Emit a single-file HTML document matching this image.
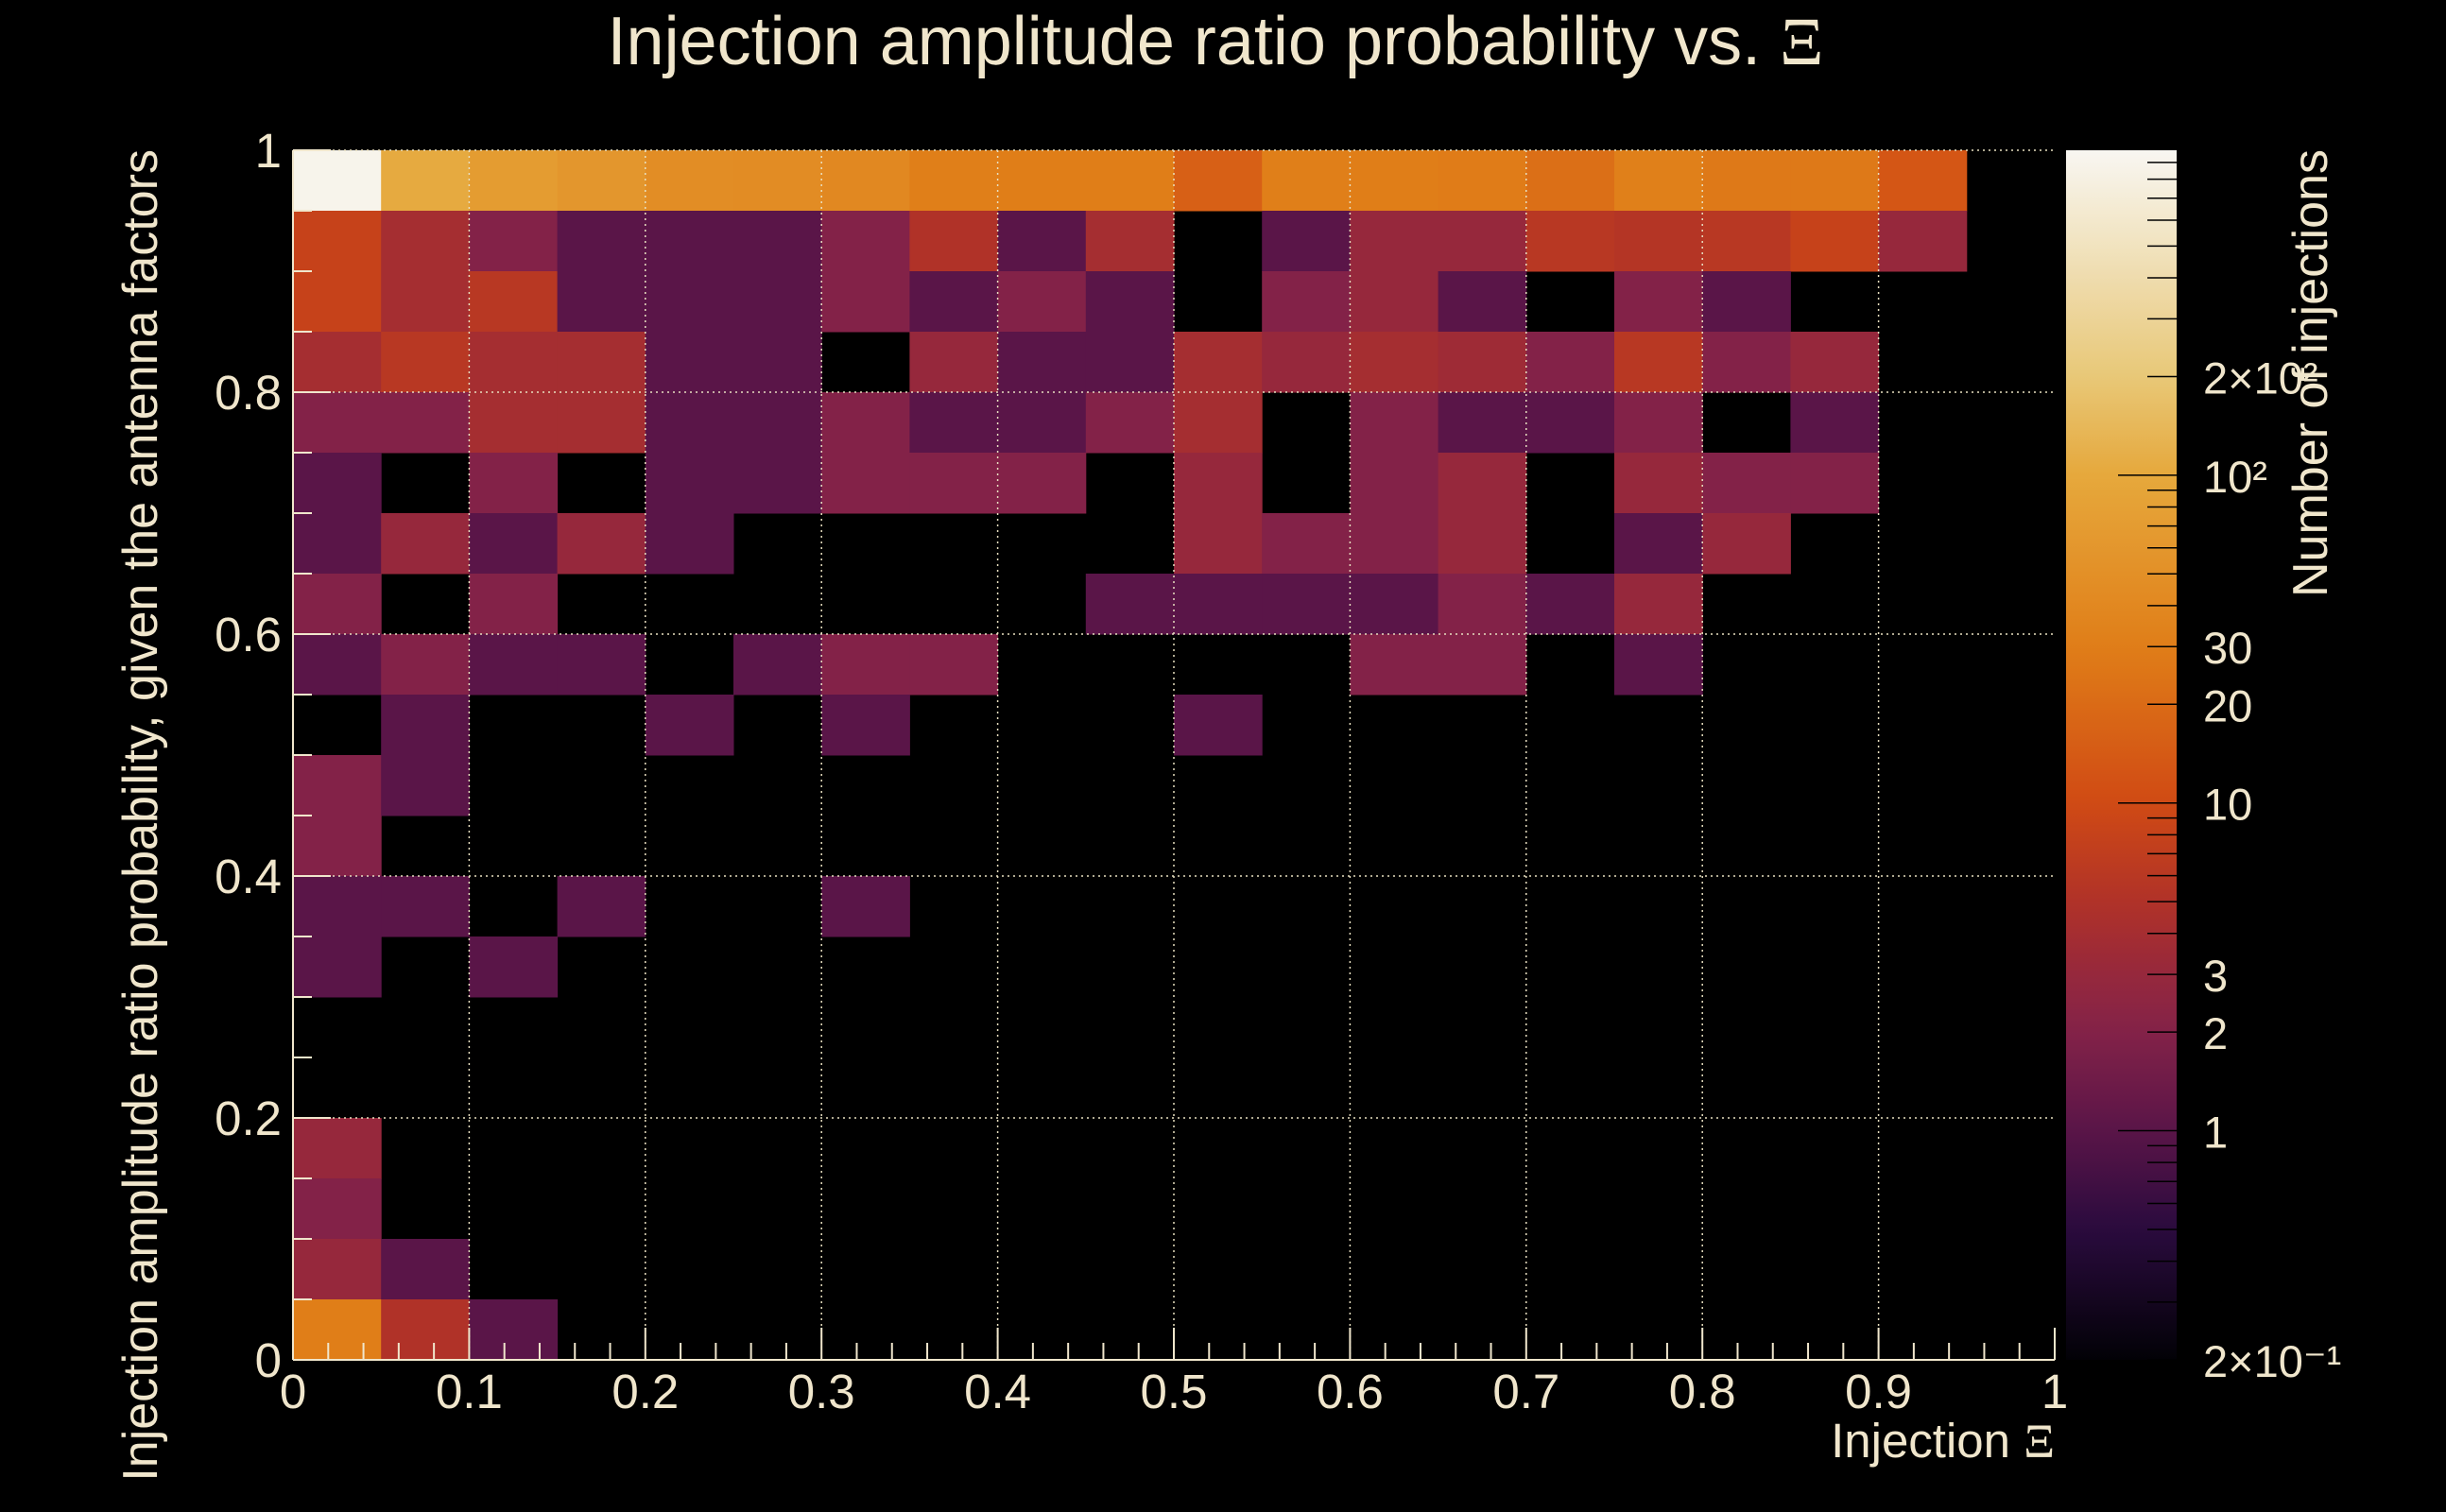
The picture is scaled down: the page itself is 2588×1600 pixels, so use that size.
<!DOCTYPE html>
<html><head><meta charset="utf-8"><style>
html,body{margin:0;padding:0;background:#000;}
svg{display:block;font-family:"Liberation Sans",sans-serif;}
</style></head><body>
<svg id="chart" width="2588" height="1600" viewBox="0 0 2588 1600" xmlns="http://www.w3.org/2000/svg">
<rect x="0" y="0" width="2588" height="1600" fill="#000"/>
<text x="1286" y="68" font-size="72" fill="#f0e6cc" text-anchor="middle">Injection amplitude ratio probability vs.  <tspan font-family="Liberation Serif, serif">Ξ</tspan></text>
<g id="cells"></g>
<g id="grid"></g>
<g id="axes"></g>
<defs><linearGradient id="cbgrad" x1="0" y1="1" x2="0" y2="0"></linearGradient></defs>
<rect x="2186" y="159" width="117" height="1280" fill="url(#cbgrad)"/>
<g id="cbticks"></g>
<text x="2174" y="1542" font-size="51" fill="#f0e6cc" text-anchor="end">Injection <tspan font-family="Liberation Serif, serif">Ξ</tspan></text>
<text transform="translate(166,158) rotate(-90)" font-size="52" fill="#f0e6cc" text-anchor="end">Injection amplitude ratio probability, given the antenna factors</text>
<text transform="translate(2462,158) rotate(-90)" font-size="52" fill="#f0e6cc" text-anchor="end">Number of injections</text>
</svg>
<script>
// data: rows listed from top (y 0.95-1.0) to bottom (y 0-0.05), 20 x-bins each
const xEdges = [0,0.05,0.1,0.15,0.2,0.25,0.3,0.35,0.4,0.45,0.5,0.55,0.6,0.65,0.7,0.75,0.8,0.85,0.9,0.95,1.0];
const row19 = [900,105,70,60,46,45,40,31,30,30,16,31,30,29,22,32,27,27,13,0];
const row18 = [8,4,2,1,1,1,2,5,1,4,0,1,3,3,6,5.5,6,8,3,0];
const row17 = [8,4,6,1,1,1,2,1,2,1,0,2,3,1,0,2,1,0,0,0];
const row16 = [4,6,4,4,1,1,0,3,1,1,4,3,4,3.5,2,6,2,3,0,0];
const row15 = [2,2,4,4,1,1,2,1,1,2,4,0,2,1,1,2,0,1,0,0];
const row14 = [1,0,2,0,1,1,2,2,2,0,3,0,2,3,0,3,2,2,0,0];
const row13 = [1,3,1,3,1,0,0,0,0,0,3,2,2,3,0,1,3,0,0,0];
const row12 = [2,0,2,0,0,0,0,0,0,1,1,1,1,2,1,3,0,0,0,0];
const row11 = [1,2,1,1,0,1,2,2,0,0,0,0,2,2,0,1,0,0,0,0];
const row10 = [0,1,0,0,1,0,1,0,0,0,1,0,0,0,0,0,0,0,0,0];
const row9  = [2,1,0,0,0,0,0,0,0,0,0,0,0,0,0,0,0,0,0,0];
const row8  = [2,0,0,0,0,0,0,0,0,0,0,0,0,0,0,0,0,0,0,0];
const row7  = [1,1,0,1,0,0,1,0,0,0,0,0,0,0,0,0,0,0,0,0];
const row6  = [1,0,1,0,0,0,0,0,0,0,0,0,0,0,0,0,0,0,0,0];
const row5  = [0,0,0,0,0,0,0,0,0,0,0,0,0,0,0,0,0,0,0,0];
const row4  = [0,0,0,0,0,0,0,0,0,0,0,0,0,0,0,0,0,0,0,0];
const row3  = [3,0,0,0,0,0,0,0,0,0,0,0,0,0,0,0,0,0,0,0];
const row2  = [2,0,0,0,0,0,0,0,0,0,0,0,0,0,0,0,0,0,0,0];
const row1  = [3,1,0,0,0,0,0,0,0,0,0,0,0,0,0,0,0,0,0,0];
const row0  = [30,5,1,0,0,0,0,0,0,0,0,0,0,0,0,0,0,0,0,0];
const rowsTopDown = [row19,row18,row17,row16,row15,row14,row13,row12,row11,row10,row9,row8,row7,row6,row5,row4,row3,row2,row1,row0];
const xTickLabels = ["0","0.1","0.2","0.3","0.4","0.5","0.6","0.7","0.8","0.9","1"];
const yTickLabels = ["0","0.2","0.4","0.6","0.8","1"];
const zTickValues = [0.2,1,2,3,10,20,30,100,200];
const zTickLabels = ["2×10⁻¹","1","2","3","10","20","30","10²","2×10²"];

const NS="http://www.w3.org/2000/svg";
const PX0=310, PX1=2174, PY0=159, PY1=1439;
const ZMIN=0.2, ZMAX=Math.pow(10,(1197-159)/347);
const CBY0=159, CBY1=1439;
const sx=v=>PX0+v*(PX1-PX0);
const sy=v=>PY1-v*(PY1-PY0);
const lz=v=>(Math.log10(v)-Math.log10(ZMIN))/(Math.log10(ZMAX)-Math.log10(ZMIN));
const sz=v=>CBY1-lz(v)*(CBY1-CBY0);
const vstops=[[0.2,[2,1,6]],[0.5,[42,11,62]],[1,[90,21,72]],[2,[131,34,72]],[3,[150,40,60]],[5,[176,50,40]],[10,[208,74,20]],[30,[224,126,24]],[100,[230,168,60]],[200,[232,200,120]],[ZMAX,[248,246,242]]];
const stops=vstops.map(s=>[lz(s[0]),s[1]]);
function col(t){t=Math.max(0,Math.min(1,t));for(let i=1;i<stops.length;i++){if(t<=stops[i][0]){const a=stops[i-1],b=stops[i];const f=(t-a[0])/(b[0]-a[0]);const c=a[1].map((v,k)=>Math.round(v+(b[1][k]-v)*f));return `rgb(${c[0]},${c[1]},${c[2]})`;}}return "rgb(248,246,242)";}
function mk(tag,attrs,parent){const e=document.createElementNS(NS,tag);for(const k in attrs)e.setAttribute(k,attrs[k]);parent.appendChild(e);return e;}
const cells=document.getElementById('cells');
const nR=rowsTopDown.length;
for(let r=0;r<nR;r++){
  const yLo=(nR-1-r)*0.05, yHi=yLo+0.05;
  rowsTopDown[r].forEach((v,c)=>{
    if(v<=0)return;
    const e=mk('rect',{x:sx(xEdges[c]),y:sy(yHi),width:sx(xEdges[c+1])-sx(xEdges[c])+0.5,height:sy(yLo)-sy(yHi)+0.5,fill:col(lz(v))},cells);
    
    
  });
}
const grad=document.getElementById('cbgrad');
for(let i=0;i<=60;i++){mk('stop',{offset:i/60,'stop-color':col(i/60)},grad);}
const grid=document.getElementById('grid');
xTickLabels.forEach((l,i)=>{const x=sx(i/10);if(i>0&&i<10){const g=mk('line',{x1:x,y1:PY0,x2:x,y2:PY1,stroke:'#e8dfc0','stroke-width':1.5,'stroke-dasharray':'2 4'},grid);}});
yTickLabels.forEach((l,i)=>{const y=sy(i/5);if(i>0){const g=mk('line',{x1:PX0,y1:y,x2:PX1,y2:y,stroke:'#e8dfc0','stroke-width':1.5,'stroke-dasharray':'2 4'},grid);}});
const axes=document.getElementById('axes');
mk('line',{x1:PX0,y1:PY1,x2:PX1,y2:PY1,stroke:'#f0e6cc','stroke-width':2},axes);
mk('line',{x1:PX0,y1:PY0,x2:PX0,y2:PY1,stroke:'#f0e6cc','stroke-width':2},axes);
for(let i=0;i<=50;i++){const x=sx(i/50);const len=i%5===0?34:18;mk('line',{x1:x,y1:PY1,x2:x,y2:PY1-len,stroke:'#f0e6cc','stroke-width':2},axes);}
for(let i=0;i<=20;i++){const y=sy(i/20);const len=i%4===0?40:20;mk('line',{x1:PX0,y1:y,x2:PX0+len,y2:y,stroke:'#f0e6cc','stroke-width':2},axes);}
xTickLabels.forEach((l,i)=>{const t=mk('text',{x:sx(i/10),y:1490,'font-size':51,fill:'#f0e6cc','text-anchor':'middle'},axes);t.textContent=l;});
yTickLabels.forEach((l,i)=>{const t=mk('text',{x:298,y:sy(i/5)+18,'font-size':51,fill:'#f0e6cc','text-anchor':'end'},axes);t.textContent=l;});
const cbt=document.getElementById('cbticks');
[0.2,0.3,0.4,0.5,0.6,0.7,0.8,0.9,1,2,3,4,5,6,7,8,9,10,20,30,40,50,60,70,80,90,100,200,300,400,500,600,700,800,900].forEach(v=>{const y=sz(v);if(y<CBY0)return;const major=(v===1||v===10||v===100);mk('line',{x1:major?2241:2272,y1:y,x2:2303,y2:y,stroke:'#000','stroke-width':1.5},cbt);});
zTickValues.forEach((v,i)=>{const t=mk('text',{x:2331,y:sz(v)+18,'font-size':47,fill:'#f0e6cc'},cbt);t.textContent=zTickLabels[i];});
</script>
</body></html>
